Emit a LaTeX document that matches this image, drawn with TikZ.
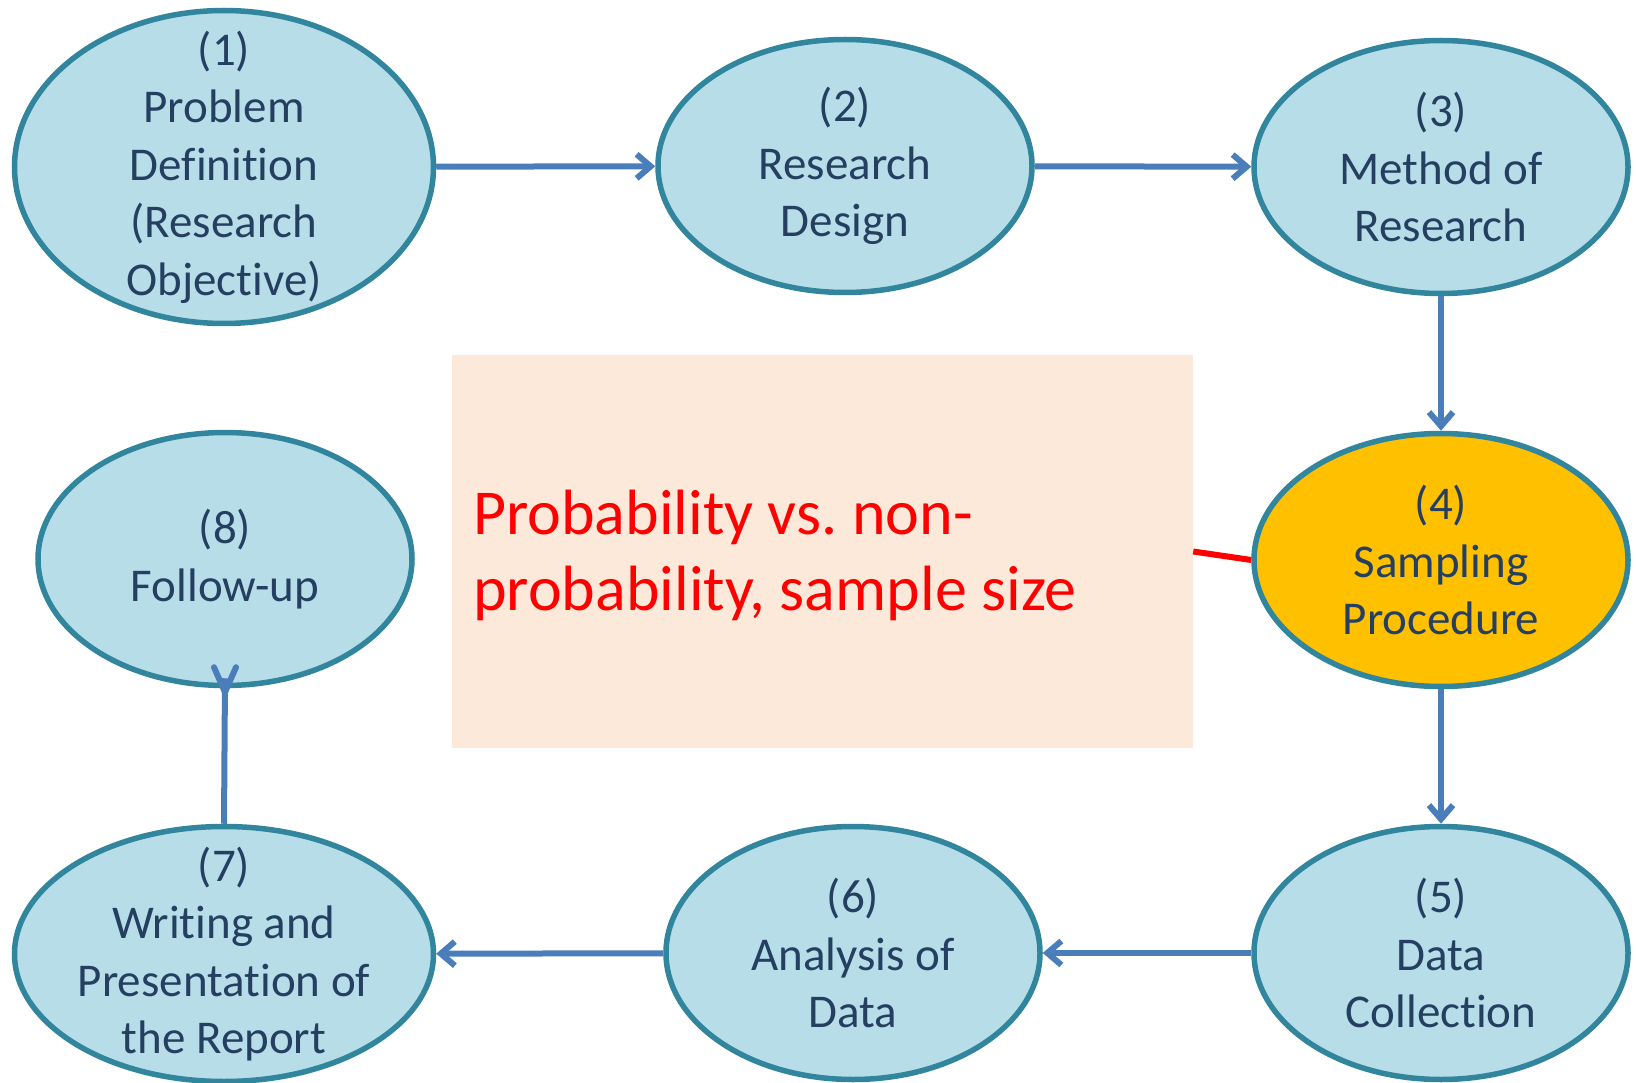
\documentclass[tikz,border=0pt]{standalone}
\usepackage{fontspec}
\setmainfont{Carlito}[Ligatures=NoCommon]
\frenchspacing
\usetikzlibrary{shapes.geometric,arrows.meta}
\definecolor{stagefill}{HTML}{B7DEE8}
\definecolor{stageline}{HTML}{31859C}
\definecolor{stagetext}{HTML}{243F60}
\definecolor{flowline}{HTML}{4A7EBB}
\definecolor{notefill}{HTML}{FDE9D9}
\definecolor{hilite}{HTML}{FFC000}
\definecolor{notered}{HTML}{FF0000}
\begin{document}
\begin{tikzpicture}[x=1pt,y=-1pt,
  stage/.style={ellipse, draw=stageline, fill=stagefill, line width=5.5,
    inner sep=0, minimum width=374, minimum height=253,
    label={[stagelabel]center:#1}},
  stagelabel/.style={inner sep=0, align=center, text=stagetext,
    font=\fontsize{47}{57.5}\selectfont},
  flow/.style={draw=flowline, line width=6,
    -{Straight Barb[length=14,width=24,line width=6]}},
  plain/.style={draw=flowline, line width=6}]
\useasboundingbox (0,0) rectangle (1636,1083);

% note box with the sampling remarks
\node[fill=notefill, inner sep=0, minimum width=741, minimum height=393] (note) at (822.5,551.5) {};
\node[anchor=base west, inner sep=0, align=left, text=notered,
  font=\fontsize{64}{76}\selectfont] (notetext) at (473,610)
  {Probability vs. non-\\probability, sample size};

% process stages
\node[stage={(1)\\Problem\\Definition\\(Research\\Objective)},
  minimum width=419, minimum height=313] (e1) at (224,167) {};
\node[stage={(2)\\Research\\Design}] (e2) at (845,166) {};
\node[stage={(3)\\Method of\\Research}] (e3) at (1441,167) {};
\node[stage={(4)\\Sampling\\Procedure}, fill=hilite] (e4) at (1441,560) {};
\node[stage={(5)\\Data\\Collection}] (e5) at (1441,953) {};
\node[stage={(6)\\Analysis of\\Data}] (e6) at (853,953) {};
\node[stage={(7)\\Writing and\\Presentation of\\the Report},
  minimum width=419, minimum height=255] (e7) at (224,954) {};
\node[stage={(8)\\Follow-up}] (e8) at (225,559) {};

% connectors
\draw[flow] (e1) -- (e2);
\draw[flow] (e2) -- (e3);
\draw[flow] (e3) -- (e4);
\draw[flow] (e4) -- (e5);
\draw[flow] (e5) -- (e6);
\draw[flow] (e6) -- (e7);
\draw[plain] (e7.north) -- ([yshift=10]e8.south);
\draw[plain, line cap=round, line join=miter]
  ([shift={(-11,-21)}]e8.south) -- ([yshift=-4]e8.south) -- ([shift={(11,-21)}]e8.south);
\draw[notered, line width=6] (note.east) -- (e4.west);
\end{tikzpicture}
\end{document}
